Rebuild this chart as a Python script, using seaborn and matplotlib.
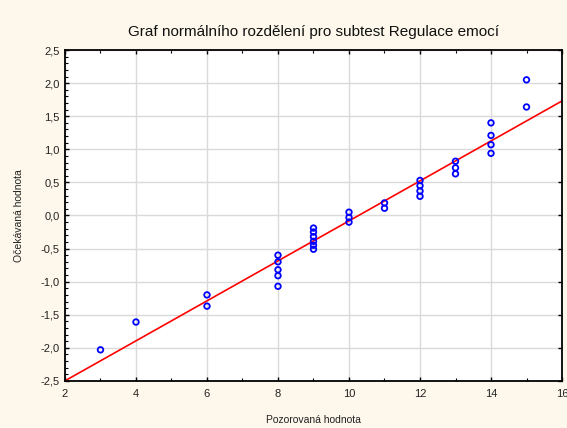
import numpy as np
import pandas as pd
import matplotlib
matplotlib.use('Agg')
import matplotlib.pyplot as plt
from matplotlib.ticker import MultipleLocator, FuncFormatter
import seaborn as sns

observed = [3, 4, 6, 6, 8, 8, 8, 8, 8, 9, 9, 9, 9, 9, 9, 10, 10, 10,
            11, 11, 12, 12, 12, 12, 13, 13, 13, 14, 14, 14, 14, 15, 15]
expected = [-2.03, -1.61, -1.20, -1.37,
            -0.60, -0.70, -0.82, -0.91, -1.07,
            -0.19, -0.25, -0.32, -0.39, -0.45, -0.51,
            0.05, -0.03, -0.10,
            0.19, 0.11,
            0.53, 0.45, 0.37, 0.29,
            0.82, 0.72, 0.63,
            1.40, 1.21, 1.07, 0.94,
            2.05, 1.64]

# fitted normal line parameters
fit_mean = 10.27
fit_sd = 3.31
x_range = [2, 16]

title = 'Graf normálního rozdělení pro subtest Regulace emocí'
xlabel = 'Pozorovaná hodnota'
ylabel = 'Očekávaná hodnota'

df = pd.DataFrame({'obs': observed, 'exp': expected})
line_x = np.array(x_range, dtype=float)
line_df = pd.DataFrame({'x': line_x, 'y': (line_x - fit_mean) / fit_sd})

sns.set_style('white')
plt.rcParams['font.family'] = ['Liberation Sans', 'DejaVu Sans']

bg = '#FDF8EB'
fig = plt.figure(figsize=(5.67, 4.28), dpi=100, facecolor=bg)
ax = fig.add_axes([0.1146, 0.110, 0.8766, 0.773])
ax.set_facecolor('white')

sns.lineplot(data=line_df, x='x', y='y', ax=ax, color='#FF0000', linewidth=1.2, zorder=2)
sns.scatterplot(data=df, x='obs', y='exp', ax=ax, marker='o', s=16,
                facecolor='none', edgecolor='#0000FF', linewidth=1.3, zorder=3)

ax.set_xlim(2, 16)
ax.set_ylim(-2.5, 2.5)
ax.xaxis.set_major_locator(MultipleLocator(2))
ax.xaxis.set_minor_locator(MultipleLocator(1))
ax.yaxis.set_major_locator(MultipleLocator(0.5))
ax.yaxis.set_minor_locator(MultipleLocator(0.1))
ax.yaxis.set_major_formatter(FuncFormatter(lambda v, p: f'{v:.1f}'.replace('.', ',')))
ax.grid(True, which='major', color='#DADADA', linewidth=1.0)
ax.set_axisbelow(True)

ax.tick_params(which='both', direction='in', top=True, right=True, left=True, bottom=True,
               colors='black', labelsize=8, labelcolor='#222222')
ax.tick_params(which='major', length=3, width=1)
ax.tick_params(which='minor', length=2, width=0.8, right=False)
ax.tick_params(axis='x', pad=6)
ax.tick_params(axis='y', pad=4)

for sp in ax.spines.values():
    sp.set_visible(True)
    sp.set_color('black')
    sp.set_linewidth(1.3)

ax.set_title(title, fontsize=11, pad=10, color='#111111')
ax.set_xlabel(xlabel, fontsize=7.5, labelpad=11, color='#222222')
ax.set_ylabel(ylabel, fontsize=7.5, labelpad=12, color='#222222')

fig.savefig('out.png', dpi=100, facecolor=bg)
